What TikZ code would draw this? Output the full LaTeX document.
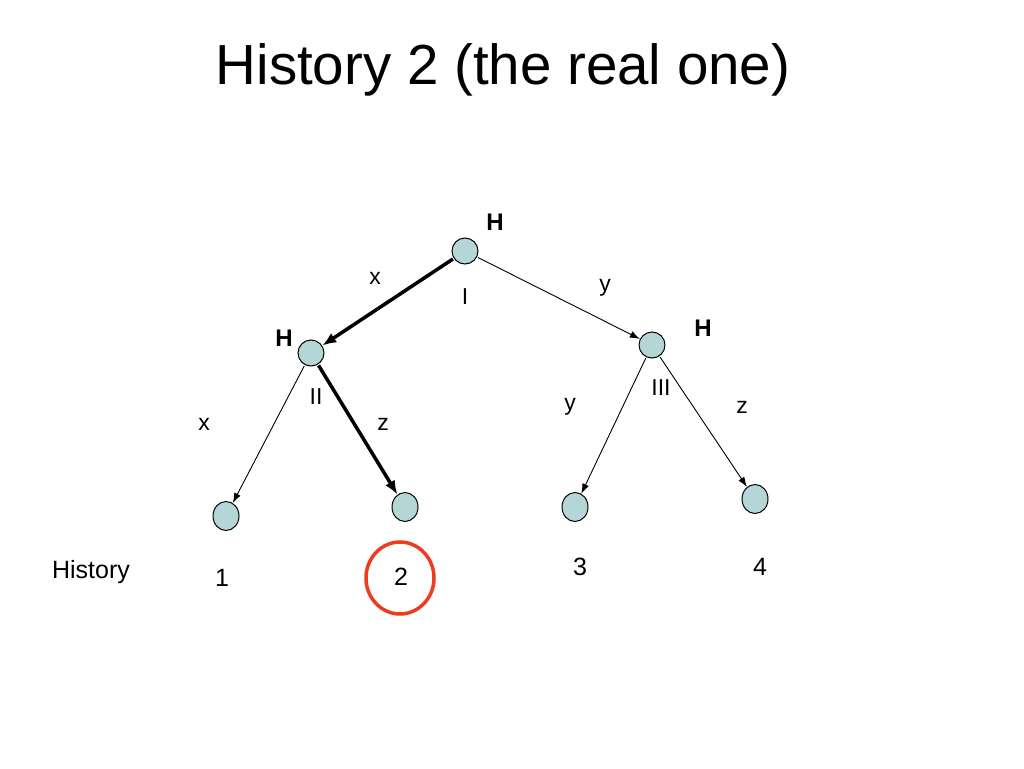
\documentclass[tikz,border=0pt]{standalone}
\usepackage{fontspec}
\setmainfont{Liberation Sans}
\usetikzlibrary{arrows.meta,shapes.geometric}
\begin{document}
\begin{tikzpicture}[x=1pt,y=-1pt,
  gnode/.style={draw=black, line width=1pt, fill={rgb,255:red,180;green,214;blue,214}, circle, minimum size=26pt, inner sep=0pt},
  leaf/.style={draw=black, line width=1pt, fill={rgb,255:red,180;green,214;blue,214}, ellipse, minimum width=26pt, minimum height=29pt, inner sep=0pt},
  lbl/.style={font=\fontsize{23}{26}\selectfont, inner sep=0pt},
  big/.style={font=\fontsize{25}{28}\selectfont, inner sep=0pt},
  hl/.style={font=\fontsize{24}{26}\selectfont\bfseries, inner sep=0pt},
  thin/.style={draw, line width=0.9pt, -{Latex[length=10pt,width=7pt]}, shorten <=1pt},
  thick/.style={draw, line width=3.5pt, -{Latex[length=14pt,width=11pt]}, shorten <=1pt}
]
\useasboundingbox[fill=white] (0,0) rectangle (1024,768);
\node[font=\fontsize{56.5}{64}\selectfont, inner sep=0pt] (title) at (503,70) {History 2 (the real one)};
\node[gnode] (r) at (465,251) {};
\node[gnode] (a) at (311,353) {};
\node[gnode] (b) at (652,345) {};
\node[leaf] (l1) at (226,516) {};
\node[leaf] (l2) at (405,507) {};
\node[leaf] (l3) at (575,507) {};
\node[leaf] (l4) at (755,499) {};
\node[hl] (hr) at (495,222) {H};
\node[hl] (ha) at (284,338) {H};
\node[hl] (hb) at (703,328) {H};
\node[lbl] (nr) at (465,297) {I};
\node[lbl] (na) at (316,397) {II};
\node[lbl] (nb) at (661,388) {III};
\node[lbl] (e1) at (375,278) {x};
\node[lbl] (e2) at (605,288) {y};
\node[lbl] (e3) at (204,424) {x};
\node[lbl] (e4) at (383,424) {z};
\node[lbl] (e5) at (570,407) {y};
\node[lbl] (e6) at (742,407) {z};
\node[big] (hist) at (91,572) {History};
\node[big] (o1) at (222,578) {1};
\node[big] (o2) at (401,577) {2};
\node[big] (o3) at (580,567) {3};
\node[big] (o4) at (760,567) {4};
\draw[draw={rgb,255:red,240;green,60;blue,30}, line width=3.5pt] (400,578) ellipse [x radius=34, y radius=36];
\draw[thick] (r) -- (a);
\draw[thin] (r) -- (b);
\draw[thin] (a) -- (l1);
\draw[thick] (a) -- (l2);
\draw[thin] (b) -- (l3);
\draw[thin] (b) -- (l4);
\end{tikzpicture}
\end{document}
